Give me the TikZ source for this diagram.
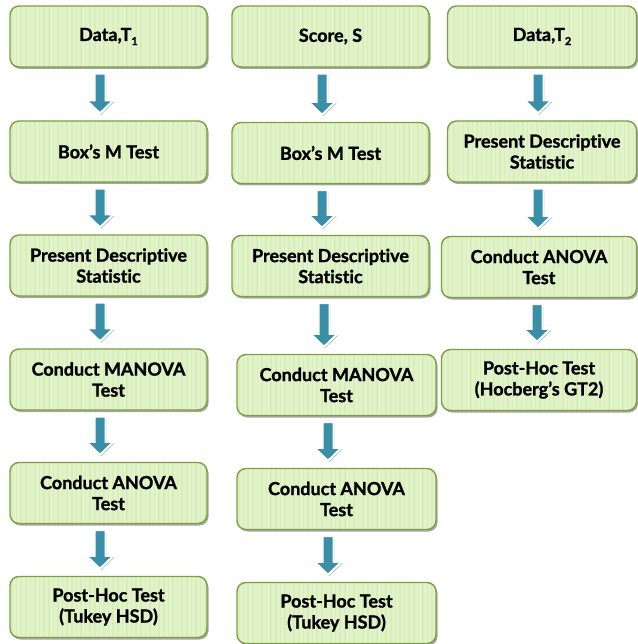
\documentclass[tikz,border=0pt]{standalone}
\usepackage{fontspec}
\setmainfont{Lato}[Ligatures=NoCommon, BoldFeatures={FakeBold=1.3}]
\usetikzlibrary{shadows,calc}

\definecolor{boxfill}{HTML}{E2F3CA}
\definecolor{boxstripe}{HTML}{D7EDBA}
\definecolor{boxedge}{HTML}{7D9E43}
\definecolor{arrowteal}{HTML}{3A8FA8}

% lowered index digit for the data labels
\newcommand\lowidx[1]{\raisebox{-0.45ex}{\fontsize{11}{11}\selectfont #1}}

\tikzset{
  stepbox/.style={
    draw=boxedge, line width=1.4pt, fill=boxfill, rounded corners=9pt,
    minimum height=61pt, inner sep=0pt, align=center,
    font=\fontsize{18}{21}\selectfont\bfseries,
    drop shadow={shadow xshift=1.5pt, shadow yshift=-2pt, opacity=0.35, fill=black},
    path picture={
      \foreach \k in {0,...,44}{
        \draw[boxstripe, line width=1.5pt]
          ([xshift=\k*4.6pt+2pt]path picture bounding box.south west) --
          ([xshift=\k*4.6pt+2pt]path picture bounding box.north west);
      }
    }
  },
  flowarrow/.style={
    fill=arrowteal, draw=white, line width=2pt, line join=miter,
    drop shadow={shadow xshift=1pt, shadow yshift=-1.5pt, opacity=0.3, fill=black}
  }
}

% block arrow from the bottom of box #1 to the top of box #2, moved sideways by #3
\newcommand\flowstep[3]{%
  \path[flowarrow] let \p1=([xshift=#3]#1.south), \p2=(#2.north) in
    (\x1-5.5pt,\y1-6pt) -- (\x1+5.5pt,\y1-6pt) -- (\x1+5.5pt,\y2+20pt) --
    (\x1+13.5pt,\y2+20pt) -- (\x1,\y2+7pt) -- (\x1-13.5pt,\y2+20pt) --
    (\x1-5.5pt,\y2+20pt) -- cycle;}

\begin{document}
\begin{tikzpicture}[x=1pt, y=-1pt]
  \useasboundingbox (0,0) rectangle (637,644);

  % first column
  \node[stepbox, minimum width=197pt] (a1) at (108.5,36.5) {Data,T\lowidx{1}};
  \node[stepbox, minimum width=197pt] (a2) at (108.5,151.5) {Box’s M Test};
  \node[stepbox, minimum width=197pt] (a3) at (108.5,265.5) {Present Descriptive\\Statistic};
  \node[stepbox, minimum width=197pt] (a4) at (108.5,379.5) {Conduct MANOVA\\Test};
  \node[stepbox, minimum width=197pt] (a5) at (108.5,493) {Conduct ANOVA\\Test};
  \node[stepbox, minimum width=197pt] (a6) at (108.5,607) {Post-Hoc Test\\(Tukey HSD)};

  % second column
  \node[stepbox, minimum width=197pt] (b1) at (330.5,36.5) {Score, S};
  \node[stepbox, minimum width=197pt] (b2) at (330.5,153) {Box’s M Test};
  \node[stepbox, minimum width=197pt] (b3) at (330.5,266) {Present Descriptive\\Statistic};
  \node[stepbox, minimum width=199pt] (b4) at (336.5,385) {Conduct MANOVA\\Test};
  \node[stepbox, minimum width=199pt] (b5) at (336.5,499) {Conduct ANOVA\\Test};
  \node[stepbox, minimum width=199pt] (b6) at (336.5,613) {Post-Hoc Test\\(Tukey HSD)};

  % third column
  \node[stepbox, minimum width=189pt] (c1) at (542,36.5) {Data,T\lowidx{2}};
  \node[stepbox, minimum width=189pt] (c2) at (542,151.5) {Present Descriptive\\Statistic};
  \node[stepbox, minimum width=195pt] (c3) at (539,267) {Conduct ANOVA\\Test};
  \node[stepbox, minimum width=195pt] (c4) at (539,380) {Post-Hoc Test\\(Hocberg’s GT2)};

  % arrows
  \flowstep{a1}{a2}{-8.5pt}
  \flowstep{a2}{a3}{-8.5pt}
  \flowstep{a3}{a4}{-8.5pt}
  \flowstep{a4}{a5}{-8.5pt}
  \flowstep{a5}{a6}{-8.5pt}

  \flowstep{b1}{b2}{-8.5pt}
  \flowstep{b2}{b3}{-8.5pt}
  \flowstep{b3}{b4}{-6.5pt}
  \flowstep{b4}{b5}{-8.5pt}
  \flowstep{b5}{b6}{-8.5pt}

  \flowstep{c1}{c2}{-4pt}
  \flowstep{c2}{c3}{-4pt}
  \flowstep{c3}{c4}{-2pt}
\end{tikzpicture}
\end{document}
